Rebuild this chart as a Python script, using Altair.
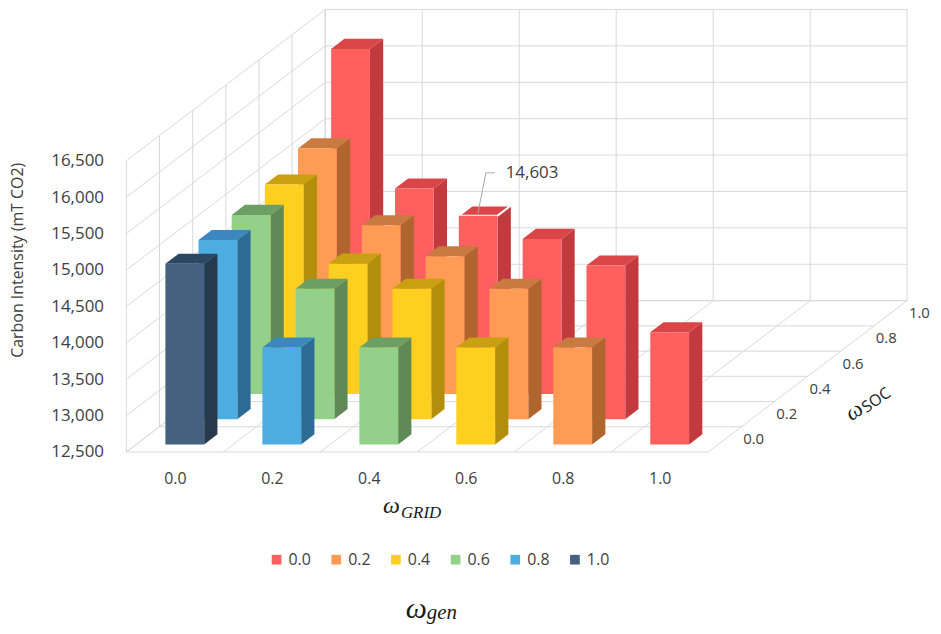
import json
import altair as alt
import pandas as pd

# ---------------- data ----------------
GRID = [0.0, 0.2, 0.4, 0.6, 0.8, 1.0]          # omega_GRID (columns)
SOC = [0.0, 0.2, 0.4, 0.6, 0.8, 1.0]           # omega_SOC (depth rows)
GEN_LABELS = ["0.0", "0.2", "0.4", "0.6", "0.8", "1.0"]   # omega_gen (colour)
GRID_LABELS = ["0.0", "0.2", "0.4", "0.6", "0.8", "1.0"]
SOC_LABELS = ["0.0", "0.2", "0.4", "0.6", "0.8", "1.0"]
Y_TICKS = [12500, 13000, 13500, 14000, 14500, 15000, 15500, 16000, 16500]

# carbon intensity (mT CO2), one list per omega_SOC row, ordered by omega_GRID
CI_SOC_00 = [14980, 13830, 13830, 13830, 13830, 14040]
CI_SOC_02 = [14960, 14290, 14290, 14290, 14610]
CI_SOC_04 = [14960, 14290, 14390, 14630]
CI_SOC_06 = [15030, 14470, 14603]
CI_SOC_08 = [15180, 14630]
CI_SOC_10 = [16200]
CI_ROWS = [CI_SOC_00, CI_SOC_02, CI_SOC_04, CI_SOC_06, CI_SOC_08, CI_SOC_10]

LABELLED_GRID = 0.4
LABELLED_SOC = 0.6

# ---------------- styles ----------------
FRONT = ["#FF5F5F", "#FF9B55", "#FFCF20", "#93D18A", "#4DACE0", "#44617F"]
SIDE = ["#C23A3D", "#B0652F", "#B38E0A", "#5F8A58", "#2D6B94", "#26394D"]
TOP = ["#DA4548", "#C97A40", "#C9A012", "#6C9F64", "#3C87BD", "#2C4762"]
GRID_COLOR = "#D9D9D9"
TEXT_COLOR = "#404040"
FONT = "Open Sans"
MATH_FONT = "Liberation Serif"

records = []
for si, (soc, row) in enumerate(zip(SOC, CI_ROWS)):
    for ci, v in enumerate(row):
        gen = abs(round(1 - GRID[ci] - soc, 1))
        records.append({
            "ci": ci, "si": si, "grid": GRID[ci], "soc": soc,
            "gen": f"{gen:.1f}", "value": v,
            "hl": int(GRID[ci] == LABELLED_GRID and soc == LABELLED_SOC),
        })
bars = pd.DataFrame(records)

# ---------------- projection / layout ----------------
W, H = 930, 618
COL_PX = 97.5           # pixel width of one omega_GRID cell
X_ORIGIN_PX = 119       # front-left floor corner (plot coords)
Y_PX_PER_UNIT = 0.0732
Y_BASE_PX = 444.7       # plot y of the floor at the front edge
KX = 33.33 / COL_PX     # x shift per depth row (in column units)
KY = 25.35 / Y_PX_PER_UNIT  # y shift per depth row (in value units)
NCOL, NDEP = len(GRID), len(SOC)
BASE, TOPV = Y_TICKS[0], Y_TICKS[-1]
GAP, BAR = 0.3, 0.4

XS = alt.Scale(domain=[-X_ORIGIN_PX / COL_PX, (W - X_ORIGIN_PX) / COL_PX], nice=False, zero=False)
YS = alt.Scale(domain=[BASE - (H - Y_BASE_PX) / Y_PX_PER_UNIT, BASE + Y_BASE_PX / Y_PX_PER_UNIT],
               nice=False, zero=False)

XAX = alt.Axis(orient="bottom", offset=-155, values=[c + 0.5 for c in range(NCOL)],
               labelExpr=f"{json.dumps(GRID_LABELS)}[round(datum.value - 0.5)]",
               domain=False, ticks=False, tickSize=0, grid=False, labelPadding=0,
               labelFont=FONT, labelFontSize=16, labelColor=TEXT_COLOR, title=None,
               labelAngle=0)
YAX = alt.Axis(orient="left", offset=-96, values=Y_TICKS, format=",.0f",
               domain=False, ticks=False, tickSize=0, grid=False, labelPadding=0,
               labelFont=FONT, labelFontSize=17, labelColor=TEXT_COLOR, title=None)


def X(field, **kw):
    return alt.X(f"{field}:Q", scale=XS, axis=XAX, **kw)


def Y(field, **kw):
    return alt.Y(f"{field}:Q", scale=YS, axis=YAX, **kw)


CS = alt.Scale(domain=GEN_LABELS + ["s" + g for g in GEN_LABELS] + ["t" + g for g in GEN_LABELS],
               range=FRONT + SIDE + TOP)
LEGEND = alt.Legend(orient="none", legendX=262, legendY=545, direction="horizontal", columns=6,
                    title=None, values=GEN_LABELS, symbolType="square", symbolSize=95,
                    symbolStrokeWidth=0, labelFont=FONT, labelFontSize=16, labelColor=TEXT_COLOR,
                    labelOffset=4, columnPadding=17, padding=0)


def color_enc(field):
    return alt.Color(f"{field}:N", scale=CS, legend=LEGEND)


# ---------------- walls & floor ----------------
ticks_df = pd.DataFrame({"v": Y_TICKS})
dep_df = pd.DataFrame({"d": list(range(NDEP + 1))})
col_df = pd.DataFrame({"c": list(range(NCOL + 1))})


def rule_layer(df, x1, y1, x2, y2):
    return (alt.Chart(df)
            .transform_calculate(X1=x1, Y1=y1, X2=x2, Y2=y2)
            .mark_rule(color=GRID_COLOR, strokeWidth=1)
            .encode(x=X("X1"), y=Y("Y1"), x2="X2:Q", y2="Y2:Q"))


layers = [
    # left wall lines along depth
    rule_layer(ticks_df, "0", "datum.v", f"{NDEP}*{KX}", f"datum.v + {NDEP}*{KY}"),
    # left wall verticals
    rule_layer(dep_df, f"datum.d*{KX}", f"{BASE} + datum.d*{KY}", f"datum.d*{KX}", f"{TOPV} + datum.d*{KY}"),
    # back wall horizontals
    rule_layer(ticks_df, f"{NDEP}*{KX}", f"datum.v + {NDEP}*{KY}", f"{NCOL} + {NDEP}*{KX}", f"datum.v + {NDEP}*{KY}"),
    # back wall verticals
    rule_layer(col_df, f"datum.c + {NDEP}*{KX}", f"{BASE} + {NDEP}*{KY}", f"datum.c + {NDEP}*{KX}", f"{TOPV} + {NDEP}*{KY}"),
    # floor lines along x
    rule_layer(dep_df, f"datum.d*{KX}", f"{BASE} + datum.d*{KY}", f"{NCOL} + datum.d*{KX}", f"{BASE} + datum.d*{KY}"),
    # floor lines along depth
    rule_layer(col_df, "datum.c", f"{BASE}", f"datum.c + {NDEP}*{KX}", f"{BASE} + {NDEP}*{KY}"),
]


# ---------------- 3-D bars ----------------
def bar_base(r):
    return (alt.Chart(bars)
            .transform_filter(f"datum.si == {r}")
            .transform_calculate(
                df=f"datum.si + {GAP}",
                xl=f"datum.ci + {GAP} + datum.df * {KX}",
                xr=f"datum.ci + {GAP + BAR} + datum.df * {KX}",
                yb=f"{BASE} + datum.df * {KY}",
                yt=f"datum.value + datum.df * {KY}"))


def two_points(ch):
    return ch.transform_calculate(pts="[0, 1]").transform_flatten(["pts"], as_=["pt"])


for r in reversed(range(NDEP)):
    side = (two_points(bar_base(r))
            .transform_calculate(sx=f"datum.xr + datum.pt * {BAR * KX}",
                                 sy=f"datum.yb + datum.pt * {BAR * KY}",
                                 sy2=f"datum.yt + datum.pt * {BAR * KY}",
                                 key="'s' + datum.gen")
            .mark_area(orient="vertical")
            .encode(x=X("sx"), y=Y("sy", stack=False), y2="sy2:Q",
                    color=color_enc("key"), detail="ci:N"))
    top = (two_points(bar_base(r))
           .transform_calculate(tx=f"datum.xl + datum.pt * {BAR * KX}",
                                tx2=f"datum.xr + datum.pt * {BAR * KX}",
                                ty=f"datum.yt + datum.pt * {BAR * KY}",
                                key="'t' + datum.gen")
           .mark_area(orient="horizontal", stroke="white")
           .encode(x=X("tx", stack=False), x2="tx2:Q", y=Y("ty"),
                   color=color_enc("key"), detail="ci:N",
                   strokeWidth=alt.condition("datum.hl == 1", alt.value(2), alt.value(0))))
    front = (bar_base(r)
             .mark_rect(strokeWidth=0)
             .encode(x=X("xl"), x2="xr:Q", y=Y("yb"), y2="yt:Q", color=color_enc("gen")))
    layers += [side, top, front]

# ---------------- omega_SOC tick labels ----------------
soc_df = pd.DataFrame({"lab": SOC_LABELS, "d": list(range(NDEP))})
layers.append(
    alt.Chart(soc_df)
    .transform_calculate(sx=f"{NCOL} + (datum.d + 0.5) * {KX}", sy=f"{BASE} + (datum.d + 0.5) * {KY}")
    .mark_text(align="center", baseline="middle", dx=29, font=FONT, fontSize=15, color=TEXT_COLOR)
    .encode(x=X("sx"), y=Y("sy"), text="lab:N"))

# ---------------- data label on the highlighted bar ----------------
hl = (alt.Chart(bars)
      .transform_filter("datum.hl == 1")
      .transform_calculate(
          tcx=f"datum.ci + {GAP + BAR / 2} + (datum.si + {GAP + BAR / 2}) * {KX}",
          tcy=f"datum.value + (datum.si + {GAP + BAR / 2}) * {KY}"))
layers.append(hl.mark_rule(color="#A6A6A6", strokeWidth=1, xOffset=-7, yOffset=3, x2Offset=1, y2Offset=-38)
              .encode(x=X("tcx"), y=Y("tcy"), x2="tcx:Q", y2="tcy:Q"))
layers.append(hl.mark_rule(color="#A6A6A6", strokeWidth=1, xOffset=1, yOffset=-38, x2Offset=10, y2Offset=-38)
              .encode(x=X("tcx"), y=Y("tcy"), x2="tcx:Q", y2="tcy:Q"))
layers.append(hl.mark_text(align="left", baseline="middle", dx=21, dy=-38, font=FONT, fontSize=17,
                           color=TEXT_COLOR)
              .encode(x=X("tcx"), y=Y("tcy"), text=alt.Text("value:Q", format=",")))


# ---------------- titles ----------------
def text_layer(txt, x, y, size, font, style="normal", angle=0, dx=0, dy=0,
               align="left", baseline="alphabetic", color="#1A1A1A"):
    return (alt.Chart(pd.DataFrame({"t": [txt]}))
            .mark_text(align=align, baseline=baseline, font=font, fontSize=size, fontStyle=style,
                       angle=angle, dx=dx, dy=dy, color=color)
            .encode(text="t:N", x=alt.value(x), y=alt.value(y)))


layers += [
    text_layer("Carbon Intensity (mT CO2)", 10, 252, 16, FONT, angle=270, align="center",
               baseline="middle", color=TEXT_COLOR),
    text_layer("ω", 377, 506, 24, MATH_FONT, style="italic"),
    text_layer("GRID", 395, 511, 17, MATH_FONT, style="italic"),
    text_layer("ω", 400, 612, 30, MATH_FONT, style="italic"),
    text_layer("gen", 421, 613, 21, MATH_FONT, style="italic"),
    text_layer("ω", 848, 414, 23, MATH_FONT, style="italic", angle=325),
    text_layer("SOC", 848, 414, 16, FONT, angle=325, dx=17, dy=2),
]

chart = (alt.layer(*layers)
         .properties(width=W, height=H, autosize=alt.AutoSizeParams(type="none"), padding=0,
                     background="white")
         .configure_view(strokeWidth=0))

chart.save("out.html", embed_options={"renderer": "svg", "actions": False})
